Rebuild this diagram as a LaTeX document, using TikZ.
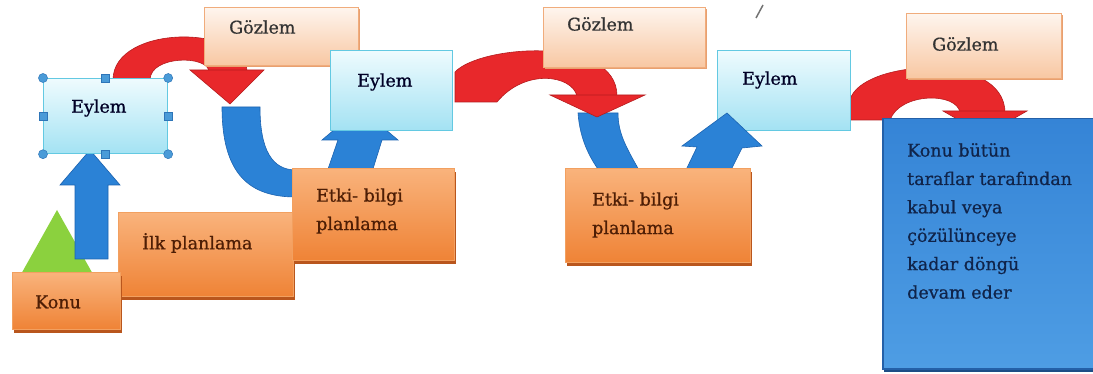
\documentclass[tikz,border=0pt]{standalone}
\usepackage{fontspec}
\setmainfont{DejaVu Serif}[FakeBold=0.7]
\usetikzlibrary{shadows}
\definecolor{orTop}{HTML}{F9B37C}
\definecolor{orBot}{HTML}{EF8336}
\definecolor{orEdge}{HTML}{F2A060}
\definecolor{orShadow}{HTML}{B9561D}
\definecolor{orText}{HTML}{4E1E05}
\definecolor{gzTop}{HTML}{FEF5EE}
\definecolor{gzBot}{HTML}{F8C7A2}
\definecolor{gzBorder}{HTML}{F0AC7C}
\definecolor{gzShadow}{HTML}{E8A070}
\definecolor{eyTop}{HTML}{EEFBFE}
\definecolor{eyBot}{HTML}{A3E2F3}
\definecolor{eyBorder}{HTML}{63C9E2}
\definecolor{blueA}{HTML}{2B82D6}
\definecolor{blueDark}{HTML}{1C63B0}
\definecolor{redA}{HTML}{E8282B}
\definecolor{redDark}{HTML}{B51C1E}
\definecolor{greenA}{HTML}{8BD13E}
\definecolor{bigTop}{HTML}{3584D6}
\definecolor{bigMid}{HTML}{66AEEB}
\definecolor{bigBot}{HTML}{4E9DE4}
\definecolor{bigBorder}{HTML}{2460A8}
\definecolor{bigText}{HTML}{10244A}
\definecolor{handleFill}{HTML}{4A9BD8}
\definecolor{handleDraw}{HTML}{2E75B8}
\begin{document}
\begin{tikzpicture}[x=1pt,y=-1pt,
  font=\fontsize{17.5}{28.4}\selectfont,
  obox/.style={rectangle, inner sep=0pt, anchor=north west, top color=orTop, bottom color=orBot,
    draw=orEdge, line width=0.6pt,
    drop shadow={shadow xshift=1.5pt, shadow yshift=-4pt, fill=orShadow, opacity=1}},
  gbox/.style={rectangle, inner sep=0pt, anchor=north west, top color=gzTop, bottom color=gzBot,
    draw=gzBorder, line width=1pt,
    drop shadow={shadow xshift=1pt, shadow yshift=-2pt, fill=gzShadow, opacity=1}},
  ebox/.style={rectangle, inner sep=0pt, anchor=north west, top color=eyTop, bottom color=eyBot,
    draw=eyBorder, line width=1.2pt},
  bigbox/.style={rectangle, inner sep=0pt, anchor=north west, top color=bigTop, middle color=bigMid,
    bottom color=bigBot, draw=bigBorder, line width=1.5pt,
    drop shadow={shadow xshift=1pt, shadow yshift=-3pt, fill=bigBorder!80!black, opacity=1}},
  txt/.style={inner sep=0pt, anchor=west},
  otxt/.style={txt, text=orText, align=left},
  gtxt/.style={txt, text=black!80},
  etxt/.style={txt, text=black!85!blue},
  bluefill/.style={fill=blueA, draw=blueDark, line width=0.6pt},
  redfill/.style={fill=redA, draw=redDark, line width=0.6pt},
  hcirc/.style={circle, inner sep=0pt, minimum size=9pt, fill=handleFill, draw=handleDraw, line width=0.5pt},
  hsq/.style={rectangle, inner sep=0pt, minimum size=8pt, fill=handleFill, draw=handleDraw, line width=0.5pt}
]
\useasboundingbox (0,0) rectangle (1093,374);
\fill[white] (0,0) rectangle (1093,374);

% green triangle
\fill[greenA] (57,210) -- (94,276) -- (20,276) -- cycle;
% blue up arrow 1
\path[bluefill] (75,259) -- (75,185) -- (60,185) -- (90,150) -- (120,185) -- (108,185) -- (108,259) -- cycle;

% blue bands (tails below red heads)
\path[bluefill] (222,107) .. controls (222,175) and (250,197) .. (296,197)
   -- (296,170) .. controls (272,170) and (260,150) .. (260,107) -- cycle;
\path[bluefill] (578,113) .. controls (580,140) and (590,158) .. (600,172)
   -- (640,172) .. controls (628,150) and (618,135) .. (618,113) -- cycle;

% red arrow 1
\path[redfill] (113,80) .. controls (113,24) and (247,24) .. (247,72)
   -- (209,72) .. controls (209,55) and (150,55) .. (150,80) -- cycle;
\path[redfill] (190,70) -- (264,70) -- (230,104) -- cycle;

% Gözlem 1
\node[gbox, minimum width=154pt, minimum height=58pt] (g1) at (204,7) {};
\node[gtxt] (g1t) at (229,27) {Gözlem};

% Eylem 1 with selection handles
\node[ebox, minimum width=124pt, minimum height=75pt] (e1) at (43,78) {};
\node[etxt] (e1t) at (71,108) {Eylem};
\node[hcirc] (h1) at (e1.north west) {};
\node[hcirc] (h2) at (e1.north east) {};
\node[hcirc] (h3) at (e1.south west) {};
\node[hcirc] (h4) at (e1.south east) {};
\node[hsq] (h5) at (e1.north) {};
\node[hsq] (h6) at (e1.south) {};
\node[hsq] (h7) at (e1.west) {};
\node[hsq] (h8) at (e1.east) {};

% blue up arrow 2
\path[bluefill] (327,172) -- (338,140) -- (322,140) -- (360,108) -- (398,140) -- (382,140) -- (372,172) -- cycle;

% orange boxes
\node[obox, minimum width=175pt, minimum height=84pt] (ilk) at (118,212) {};
\node[otxt] (ilkt) at (142,243) {İlk planlama};
\node[obox, minimum width=162pt, minimum height=92pt] (etki1) at (292,168) {};
\node[otxt] (etki1t) at (316,211) {Etki- bilgi\\planlama};
\node[obox, minimum width=108pt, minimum height=57pt] (konu) at (12,272) {};
\node[otxt] (konut) at (35,302) {Konu};

% red arrow 2
\path[redfill] (455,72) .. controls (480,45) and (617,35) .. (617,96)
   -- (577,96) .. controls (572,75) and (525,68) .. (497,102) -- (455,102) -- cycle;
\path[redfill] (550,95) -- (645,95) -- (597,117) -- cycle;

% Gözlem 2
\node[gbox, minimum width=162pt, minimum height=60pt] (g2) at (543,7) {};
\node[gtxt] (g2t) at (567,24) {Gözlem};

% Eylem 2
\node[ebox, minimum width=122pt, minimum height=80pt] (e2) at (330,50) {};
\node[etxt] (e2t) at (357,82) {Eylem};

% red arrow 3
\path[redfill] (850,100) .. controls (860,60) and (1005,50) .. (1005,113)
   -- (960,113) .. controls (958,92) and (900,92) .. (890,120) -- (850,120) -- cycle;
\path[redfill] (943,111) -- (1027,111) -- (985,135) -- cycle;

% Gözlem 3
\node[gbox, minimum width=155pt, minimum height=65pt] (g3) at (906,13) {};
\node[gtxt] (g3t) at (932,44) {Gözlem};

% Eylem 3
\node[ebox, minimum width=133pt, minimum height=80pt] (e3) at (717,50) {};
\node[etxt] (e3t) at (742,80) {Eylem};

% blue up arrow 3
\path[bluefill] (685,172) -- (697,147) -- (682,146) -- (727,113) -- (762,146) -- (742,148) -- (730,172) -- cycle;

% Etki 2
\node[obox, minimum width=185pt, minimum height=94pt] (etki2) at (565,168) {};
\node[otxt] (etki2t) at (592,215) {Etki- bilgi\\planlama};

% big blue box (runs off the right edge)
\node[bigbox, minimum width=240pt, minimum height=250pt] (big) at (882,118) {};
\node[txt, text=bigText, align=left] (bigt) at (907,221) {Konu bütün\\taraflar tarafından\\kabul veya\\çözülünceye\\kadar döngü\\devam eder};

% small stray mark
\coordinate (s1) at (763,5);
\coordinate (s2) at (756,18);
\draw[black!55, line width=1.5pt] (s1) -- (s2);
\end{tikzpicture}
\end{document}
